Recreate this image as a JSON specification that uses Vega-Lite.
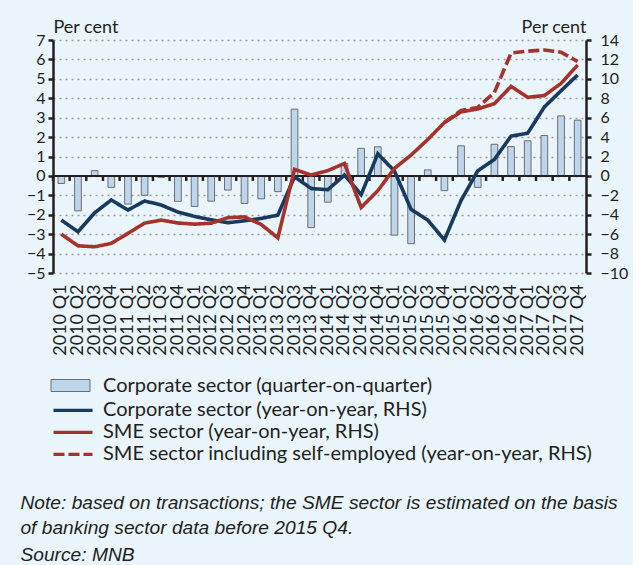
{
  "$schema": "https://vega.github.io/schema/vega-lite/v6.json",
  "width": 533,
  "height": 233,
  "padding": {"left": 20, "top": 18, "right": 5, "bottom": 5},
  "background": "#e9f4fb",
  "config": {
    "font": "Lato",
    "view": {"stroke": null},
    "axis": {"labelFont": "Lato", "titleFont": "Lato", "labelColor": "#231f20", "titleColor": "#231f20"}
  },
  "title": {
    "text": ["Note: based on transactions; the SME sector is estimated on the basis", "of banking sector data before 2015 Q4."],
    "subtitle": "Source: MNB",
    "orient": "bottom",
    "anchor": "start",
    "offset": 30,
    "dx": -6,
    "font": "Liberation Sans",
    "fontSize": 19.2,
    "fontStyle": "italic",
    "fontWeight": "normal",
    "color": "#231f20",
    "lineHeight": 25,
    "subtitleFont": "Liberation Sans",
    "subtitleFontSize": 19.2,
    "subtitleFontStyle": "italic",
    "subtitleColor": "#231f20",
    "subtitlePadding": 7
  },
  "data": {
    "values": [
      {"q": "2010 Q1", "qoq": -0.39, "corp": -4.55, "sme": -6.0, "smese": null},
      {"q": "2010 Q2", "qoq": -1.8, "corp": -5.75, "sme": -7.2, "smese": null},
      {"q": "2010 Q3", "qoq": 0.27, "corp": -3.8, "sme": -7.3, "smese": null},
      {"q": "2010 Q4", "qoq": -0.59, "corp": -2.48, "sme": -6.95, "smese": null},
      {"q": "2011 Q1", "qoq": -1.45, "corp": -3.52, "sme": -5.92, "smese": null},
      {"q": "2011 Q2", "qoq": -1.0, "corp": -2.58, "sme": -4.86, "smese": null},
      {"q": "2011 Q3", "qoq": -0.08, "corp": -3.0, "sme": -4.55, "smese": null},
      {"q": "2011 Q4", "qoq": -1.31, "corp": -3.72, "sme": -4.85, "smese": null},
      {"q": "2012 Q1", "qoq": -1.57, "corp": -4.18, "sme": -4.97, "smese": null},
      {"q": "2012 Q2", "qoq": -1.3, "corp": -4.52, "sme": -4.87, "smese": null},
      {"q": "2012 Q3", "qoq": -0.73, "corp": -4.82, "sme": -4.3, "smese": null},
      {"q": "2012 Q4", "qoq": -1.42, "corp": -4.62, "sme": -4.22, "smese": null},
      {"q": "2013 Q1", "qoq": -1.18, "corp": -4.38, "sme": -5.0, "smese": null},
      {"q": "2013 Q2", "qoq": -0.81, "corp": -4.04, "sme": -6.38, "smese": null},
      {"q": "2013 Q3", "qoq": 3.44, "corp": -0.08, "sme": 0.67, "smese": null},
      {"q": "2013 Q4", "qoq": -2.66, "corp": -1.3, "sme": 0.09, "smese": null},
      {"q": "2014 Q1", "qoq": -1.35, "corp": -1.42, "sme": 0.55, "smese": null},
      {"q": "2014 Q2", "qoq": 0.65, "corp": 0.08, "sme": 1.28, "smese": null},
      {"q": "2014 Q3", "qoq": 1.42, "corp": -1.93, "sme": -3.25, "smese": null},
      {"q": "2014 Q4", "qoq": 1.5, "corp": 2.28, "sme": -1.52, "smese": null},
      {"q": "2015 Q1", "qoq": -3.05, "corp": 0.5, "sme": 0.78, "smese": null},
      {"q": "2015 Q2", "qoq": -3.49, "corp": -3.45, "sme": 2.15, "smese": null},
      {"q": "2015 Q3", "qoq": 0.31, "corp": -4.55, "sme": 3.75, "smese": null},
      {"q": "2015 Q4", "qoq": -0.76, "corp": -6.6, "sme": 5.5, "smese": 5.5},
      {"q": "2016 Q1", "qoq": 1.55, "corp": -2.52, "sme": 6.6, "smese": 6.75},
      {"q": "2016 Q2", "qoq": -0.59, "corp": 0.52, "sme": 6.9, "smese": 7.05},
      {"q": "2016 Q3", "qoq": 1.63, "corp": 1.7, "sme": 7.44, "smese": 8.6},
      {"q": "2016 Q4", "qoq": 1.51, "corp": 4.1, "sme": 9.22, "smese": 12.65},
      {"q": "2017 Q1", "qoq": 1.81, "corp": 4.4, "sme": 8.1, "smese": 12.85},
      {"q": "2017 Q2", "qoq": 2.08, "corp": 7.1, "sme": 8.28, "smese": 12.97},
      {"q": "2017 Q3", "qoq": 3.09, "corp": 8.77, "sme": 9.53, "smese": 12.75},
      {"q": "2017 Q4", "qoq": 2.87, "corp": 10.4, "sme": 11.42, "smese": 11.78}
    ]
  },
  "layer": [
    {
      "layer": [
        {
          "mark": {"type": "bar", "stroke": "#6d6e71", "strokeWidth": 1},
          "encoding": {
            "x": {
              "field": "q", "type": "ordinal", "sort": null,
              "scale": {"paddingInner": 0.6, "paddingOuter": 0.3},
              "axis": {"title": null, "domain": false, "ticks": false, "labelAngle": -90, "labelPadding": 11, "labelFontSize": 18, "labelOverlap": false}
            },
            "y": {
              "field": "qoq", "type": "quantitative",
              "scale": {"domain": [-5, 7], "nice": false, "zero": false},
              "axis": {
                "title": "Per cent", "titleAngle": 0, "titleX": 0, "titleY": -8, "titleAlign": "left", "titleBaseline": "alphabetic",
                "titleFontSize": 18, "titleFontWeight": "normal",
                "values": [-5, -4, -3, -2, -1, 0, 1, 2, 3, 4, 5, 6, 7],
                "tickCount": 13,
                "labelOverlap": false,
                "grid": true, "gridDash": [2, 4], "gridColor": "#9a9a9a", "gridWidth": 1.3,
                "domainColor": "#231f20", "domainWidth": 2.5, "tickColor": "#231f20", "tickWidth": 2.5, "tickSize": 5,
                "labelFontSize": 16, "labelPadding": 3
              }
            },
            "fill": {
              "datum": "Corporate sector (quarter-on-quarter)",
              "scale": {"domain": ["Corporate sector (quarter-on-quarter)"], "range": ["#bdd6ec"]},
              "legend": {
                "orient": "none", "legendX": 7, "legendY": 335, "title": null, "direction": "vertical",
                "symbolSize": 400, "symbolType": "M-1.95,-0.6H1.95V0.6H-1.95Z", "symbolStrokeColor": "#6d6e71", "symbolStrokeWidth": 1,
                "labelFontSize": 20, "labelFont": "Lato", "labelColor": "#231f20", "labelLimit": 700,
                "labelOffset": 22, "rowPadding": -2.7
              }
            }
          }
        },
        {
          "mark": {"type": "rule", "color": "#231f20", "strokeWidth": 2},
          "encoding": {"y": {"datum": 0}}
        },
        {
          "mark": {"type": "rule", "color": "#231f20", "strokeWidth": 2.5},
          "encoding": {
            "x": {"field": "q", "type": "ordinal", "sort": null, "bandPosition": -0.75},
            "y": {"datum": 0},
            "y2": {"datum": -0.26}
          }
        }
      ]
    },
    {
      "layer": [
        {
          "mark": {"type": "line", "strokeWidth": 3.6},
          "encoding": {
            "x": {"field": "q", "type": "ordinal", "sort": null},
            "y": {
              "field": "corp", "type": "quantitative",
              "scale": {"domain": [-10, 14], "nice": false, "zero": false},
              "axis": {
                "orient": "right",
                "title": "Per cent", "titleAngle": 0, "titleX": 0, "titleY": -8, "titleAlign": "right", "titleBaseline": "alphabetic",
                "titleFontSize": 18, "titleFontWeight": "normal",
                "values": [-10, -8, -6, -4, -2, 0, 2, 4, 6, 8, 10, 12, 14],
                "tickCount": 13,
                "labelOverlap": false,
                "grid": false,
                "domainColor": "#231f20", "domainWidth": 2.5, "tickColor": "#231f20", "tickWidth": 2.5, "tickSize": 5,
                "labelFontSize": 16, "labelPadding": 9
              }
            },
            "stroke": {
              "datum": "Corporate sector (year-on-year, RHS)",
              "scale": {
                "domain": ["Corporate sector (year-on-year, RHS)", "SME sector (year-on-year, RHS)", "SME sector including self-employed (year-on-year, RHS)"],
                "range": ["#173a5e", "#a5332b", "#a5332b"]
              },
              "legend": {
                "orient": "none", "legendX": 8, "legendY": 358.3, "title": null, "direction": "vertical",
                "symbolSize": 400, "symbolType": "M-1.95,0H1.95", "symbolStrokeWidth": 3.3, "symbolFillColor": "transparent",
                "labelFontSize": 20, "labelFont": "Lato", "labelColor": "#231f20", "labelLimit": 700,
                "labelOffset": 18, "rowPadding": -2.7
              }
            },
            "strokeDash": {
              "datum": "Corporate sector (year-on-year, RHS)",
              "scale": {
                "domain": ["Corporate sector (year-on-year, RHS)", "SME sector (year-on-year, RHS)", "SME sector including self-employed (year-on-year, RHS)"],
                "range": [[1, 0], [1, 0], [11, 4]]
              },
              "legend": {
                "orient": "none", "legendX": 8, "legendY": 358.3, "title": null, "direction": "vertical",
                "symbolSize": 400, "symbolType": "M-1.95,0H1.95", "symbolStrokeWidth": 3.3, "symbolFillColor": "transparent",
                "labelFontSize": 20, "labelFont": "Lato", "labelColor": "#231f20", "labelLimit": 700,
                "labelOffset": 18, "rowPadding": -2.7
              }
            }
          }
        },
        {
          "mark": {"type": "line", "strokeWidth": 3.6},
          "encoding": {
            "x": {"field": "q", "type": "ordinal", "sort": null},
            "y": {"field": "sme", "type": "quantitative"},
            "stroke": {"datum": "SME sector (year-on-year, RHS)"},
            "strokeDash": {"datum": "SME sector (year-on-year, RHS)"}
          }
        },
        {
          "mark": {"type": "line", "strokeWidth": 3.6},
          "encoding": {
            "x": {"field": "q", "type": "ordinal", "sort": null},
            "y": {"field": "smese", "type": "quantitative"},
            "stroke": {"datum": "SME sector including self-employed (year-on-year, RHS)"},
            "strokeDash": {"datum": "SME sector including self-employed (year-on-year, RHS)"}
          }
        }
      ]
    }
  ],
  "resolve": {"scale": {"y": "independent"}}
}
